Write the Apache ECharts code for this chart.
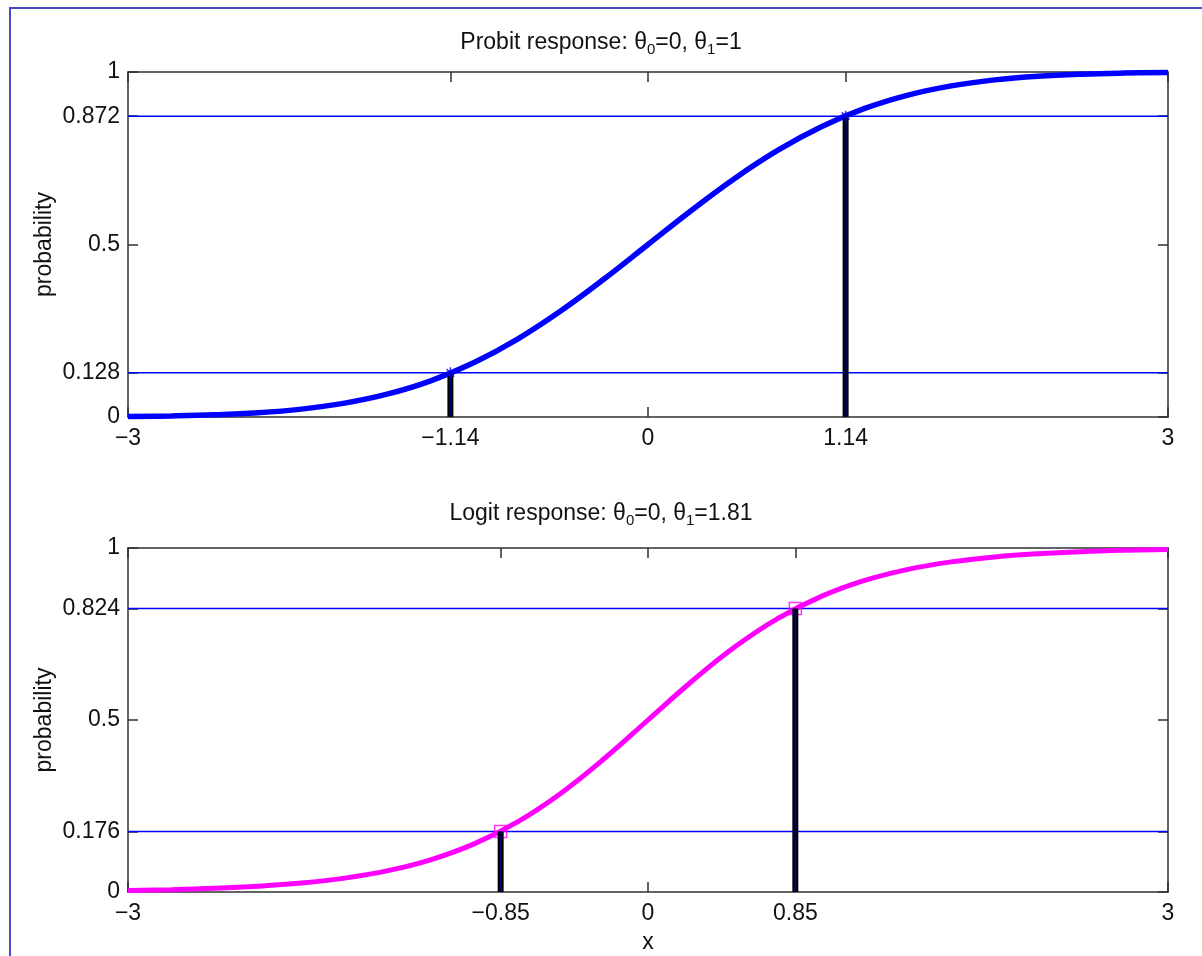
<!DOCTYPE html>
<html>
<head>
<meta charset="utf-8">
<script src="https://cdn.jsdelivr.net/npm/echarts@6/dist/echarts.min.js"></script>
<style>
html,body{margin:0;padding:0;background:#fff;}
#chart{width:1202px;height:956px;}
</style>
</head>
<body>
<div id="chart"></div>
<script>
// ---- data ----
const xVals = [-3,-2.75,-2.5,-2.25,-2,-1.75,-1.5,-1.25,-1,-0.75,-0.5,-0.25,0,0.25,0.5,0.75,1,1.25,1.5,1.75,2,2.25,2.5,2.75,3];
const probitP = [0.0013,0.0030,0.0062,0.0122,0.0228,0.0401,0.0668,0.1056,0.1587,0.2266,0.3085,0.4013,0.5,0.5987,0.6915,0.7734,0.8413,0.8944,0.9332,0.9599,0.9772,0.9878,0.9938,0.9970,0.9987];
const logitP = [0.0044,0.0068,0.0107,0.0168,0.0261,0.0404,0.0621,0.0943,0.1407,0.2047,0.2880,0.3887,0.5,0.6113,0.7120,0.7953,0.8593,0.9057,0.9379,0.9596,0.9739,0.9832,0.9893,0.9932,0.9956];
const probitCutX = [-1.14, 1.14];
const probitCutP = [0.128, 0.872];
const logitCutX = [-0.85, 0.85];
const logitCutP = [0.176, 0.824];
const topXTicks = [-3, -1.14, 0, 1.14, 3];
const topYTicks = [0, 0.128, 0.5, 0.872, 1];
const botXTicks = [-3, -0.85, 0, 0.85, 3];
const botYTicks = [0, 0.176, 0.5, 0.824, 1];
const xRange = [-3, 3];
const topTitle = 'Probit response: θ{sub|0}=0, θ{sub|1}=1';
const botTitle = 'Logit response: θ{sub|0}=0, θ{sub|1}=1.81';

// ---- chart ----
const FONT = 'Liberation Sans, Arial, sans-serif';
const FS = 23;
const AX = '#303030';
const fmt = v => v < 0 ? '\u2212' + Math.abs(v) : String(v);

function xAxes(gi, ticks, showName) {
  const base = {
    type: 'value', gridIndex: gi, min: xRange[0], max: xRange[1],
    splitLine: {show: false},
    axisLine: {show: true, onZero: false, lineStyle: {color: AX, width: 1.5}},
    axisTick: {show: true, inside: true, length: 10, customValues: ticks, lineStyle: {color: AX, width: 1.5}}
  };
  return [
    Object.assign({}, base, {
      position: 'bottom',
      axisLabel: {show: true, customValues: ticks, formatter: fmt, color: '#111', fontSize: FS, fontFamily: FONT, margin: 10},
      name: showName ? 'x' : '', nameLocation: 'middle', nameGap: 39, nameMoveOverlap: false,
      nameTextStyle: {color: '#111', fontSize: FS, fontFamily: FONT}
    }),
    Object.assign({}, base, {position: 'top', axisLabel: {show: false}})
  ];
}
function yAxes(gi, ticks) {
  const base = {
    type: 'value', gridIndex: gi, min: 0, max: 1,
    splitLine: {show: false},
    axisLine: {show: true, onZero: false, lineStyle: {color: AX, width: 1.5}},
    axisTick: {show: true, inside: true, length: 10, customValues: ticks, lineStyle: {color: AX, width: 1.5}}
  };
  return [
    Object.assign({}, base, {
      position: 'left',
      axisLabel: {show: true, customValues: ticks, formatter: fmt, color: '#111', fontSize: FS, fontFamily: FONT, margin: 8},
      name: 'probability', nameLocation: 'middle', nameGap: 72, nameRotate: 90, nameMoveOverlap: false,
      nameTextStyle: {color: '#111', fontSize: FS, fontFamily: FONT}
    }),
    Object.assign({}, base, {position: 'right', axisLabel: {show: false}})
  ];
}

function pairs(xs, ys) { return xs.map((x, i) => [x, ys[i]]); }

function hLines(gi, cutP) {
  return cutP.map(p => ({
    type: 'line', xAxisIndex: gi * 2, yAxisIndex: gi * 2, data: [[xRange[0], p], [xRange[1], p]],
    symbol: 'none', lineStyle: {color: '#0000ff', width: 1.5}, z: 2, silent: true, animation: false
  }));
}
function stems(gi, cutX, cutP) {
  const out = [];
  cutX.forEach((x, i) => {
    out.push({type: 'line', xAxisIndex: gi * 2, yAxisIndex: gi * 2, data: [[x, 0], [x, cutP[i]]],
      symbol: 'none', lineStyle: {color: '#000', width: 6, cap: 'butt'}, z: 6, clip: false, animation: false});
    out.push({type: 'line', xAxisIndex: gi * 2, yAxisIndex: gi * 2, data: [[x, 0], [x, cutP[i]]],
      symbol: 'none', lineStyle: {color: '#00006e', width: 2, cap: 'butt'}, z: 7, clip: false, animation: false});
  });
  return out;
}

const asterisk = 'path://M5,0L5,10M0,5L10,5M1.5,1.5L8.5,8.5M8.5,1.5L1.5,8.5';
const titleRich = {sub: {fontSize: 15, fontFamily: FONT, color: '#111', padding: [13, 0, 0, 0]}};

const option = {
  backgroundColor: '#ffffff',
  animation: false,
  graphic: [{type: 'rect', shape: {x: 10, y: 8, width: 1400, height: 1200},
    style: {fill: 'none', stroke: '#4a4ac8', lineWidth: 2}, silent: true, z: 100}],
  title: [
    {text: topTitle, left: 'center', top: 24,
      textStyle: {fontSize: FS, fontWeight: 'normal', color: '#111', fontFamily: FONT, rich: titleRich}},
    {text: botTitle, left: 'center', top: 495,
      textStyle: {fontSize: FS, fontWeight: 'normal', color: '#111', fontFamily: FONT, rich: titleRich}}
  ],
  grid: [
    {left: 128, top: 72, width: 1040, height: 345},
    {left: 128, top: 548, width: 1040, height: 344}
  ],
  xAxis: [].concat(xAxes(0, topXTicks, false), xAxes(1, botXTicks, true)),
  yAxis: [].concat(yAxes(0, topYTicks), yAxes(1, botYTicks)),
  series: [].concat(
    hLines(0, probitCutP),
    hLines(1, logitCutP),
    [{type: 'line', xAxisIndex: 0, yAxisIndex: 0, data: pairs(xVals, probitP), smooth: 0.4,
      symbol: 'none', lineStyle: {color: '#0000ff', width: 5.5}, z: 5, clip: false},
     {type: 'line', xAxisIndex: 2, yAxisIndex: 2, data: pairs(xVals, logitP), smooth: 0.4,
      symbol: 'none', lineStyle: {color: '#ff00ff', width: 5}, z: 5, clip: false}],
    stems(0, probitCutX, probitCutP),
    stems(1, logitCutX, logitCutP),
    [{type: 'scatter', xAxisIndex: 0, yAxisIndex: 0, data: pairs(probitCutX, probitCutP), symbol: asterisk, symbolSize: 11,
      itemStyle: {color: 'none', borderColor: '#0000ff', borderWidth: 1.5}, z: 8, clip: false},
     {type: 'scatter', xAxisIndex: 2, yAxisIndex: 2, data: pairs(logitCutX, logitCutP), symbol: 'rect', symbolSize: 12,
      itemStyle: {color: 'none', borderColor: '#ff00ff', borderWidth: 1.5}, z: 4, clip: false}]
  )
};
const chart = echarts.init(document.getElementById('chart'), null, {renderer: 'canvas'});
chart.setOption(option);
</script>
</body>
</html>
